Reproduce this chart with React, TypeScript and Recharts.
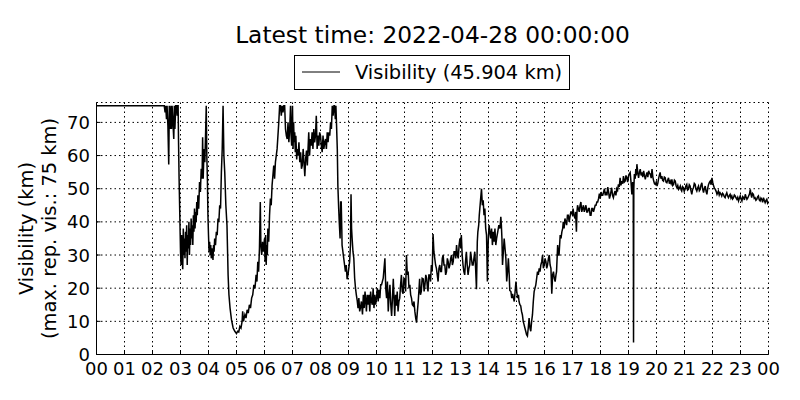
import React from "react";
import { LineChart, Line, XAxis, YAxis, CartesianGrid } from "recharts";

const chartTitle = "Latest time: 2022-04-28 00:00:00";
const legendLabel = "Visibility (45.904 km)";
const yLabelLines = ["Visibility (km)", "(max. rep. vis.: 75 km)"];
const xTicks = [0, 1, 2, 3, 4, 5, 6, 7, 8, 9, 10, 11, 12, 13, 14, 15, 16, 17, 18, 19, 20, 21, 22, 23, 24];
const yTicks = [0, 10, 20, 30, 40, 50, 60, 70];

// [hour of day, visibility km]
const seg00to06: [number, number][] = [
  [0, 75], [0.5, 75], [1, 75], [1.5, 75], [2, 75], [2.42, 75], [2.45, 73], [2.47, 75], [2.5, 71], [2.52, 75],
  [2.55, 69], [2.58, 57.3], [2.6, 75], [2.62, 72], [2.64, 68], [2.66, 75], [2.68, 68], [2.7, 75], [2.73, 70],
  [2.76, 65], [2.78, 75], [2.8, 68], [2.83, 75], [2.86, 75], [2.88, 72], [2.9, 75], [2.915, 75], [2.93, 64],
  [2.95, 53], [2.98, 40], [3.0, 31], [3.02, 27], [3.04, 36], [3.06, 29], [3.08, 25.7], [3.1, 38], [3.12, 30],
  [3.14, 35], [3.16, 29], [3.18, 37], [3.2, 31], [3.22, 39], [3.24, 27], [3.26, 36], [3.28, 32], [3.3, 40],
  [3.32, 30], [3.34, 38], [3.36, 33], [3.38, 41], [3.4, 35], [3.42, 39], [3.44, 33], [3.46, 42], [3.48, 37],
  [3.5, 44], [3.52, 38], [3.54, 43], [3.56, 40], [3.58, 46], [3.6, 42], [3.62, 48], [3.65, 44], [3.68, 52],
  [3.71, 49], [3.74, 56], [3.77, 53], [3.79, 65.5], [3.81, 53], [3.84, 62], [3.87, 58], [3.9, 68], [3.92, 75],
  [3.94, 60], [3.96, 53], [3.98, 42], [4.0, 36], [4.02, 31], [4.04, 34], [4.06, 30], [4.08, 33], [4.1, 29],
  [4.12, 32], [4.14, 31], [4.16, 28.5], [4.18, 33], [4.2, 31], [4.22, 35], [4.25, 33], [4.28, 37], [4.31, 36],
  [4.34, 41], [4.37, 40], [4.4, 45], [4.43, 44], [4.46, 55], [4.49, 62], [4.52, 75], [4.55, 60], [4.58, 55],
  [4.62, 45], [4.66, 39], [4.7, 24], [4.73, 18], [4.77, 14], [4.82, 10.5], [4.88, 8], [4.94, 7], [5.0, 6.3],
  [5.04, 7], [5.08, 6.8], [5.12, 8.5], [5.16, 8], [5.2, 10], [5.22, 13], [5.25, 10], [5.3, 12], [5.34, 11],
  [5.38, 13.5], [5.42, 12.5], [5.46, 15], [5.5, 14], [5.54, 17], [5.58, 18], [5.62, 21], [5.66, 20], [5.7, 24],
  [5.73, 22], [5.76, 28], [5.79, 25], [5.82, 32], [5.85, 46], [5.87, 33], [5.9, 30], [5.93, 34], [5.96, 31],
  [6.0, 35],
];

const seg06to10: [number, number][] = [
  [6.02, 28], [6.04, 36], [6.06, 27], [6.08, 33], [6.1, 30], [6.12, 38], [6.15, 34], [6.18, 42], [6.21, 47],
  [6.24, 45], [6.27, 51], [6.3, 54], [6.33, 57], [6.36, 53], [6.39, 58], [6.42, 60], [6.45, 62], [6.48, 66],
  [6.51, 70], [6.54, 75], [6.57, 75], [6.6, 72], [6.63, 75], [6.66, 73], [6.69, 75], [6.72, 75], [6.75, 68],
  [6.78, 66], [6.81, 65], [6.84, 70], [6.87, 64], [6.9, 68], [6.93, 75], [6.95, 66], [6.97, 63], [7.0, 75],
  [7.02, 62], [7.04, 70], [7.06, 64], [7.08, 67], [7.1, 61], [7.12, 66], [7.15, 58.8], [7.17, 62], [7.2, 60],
  [7.23, 64], [7.26, 58], [7.29, 61], [7.32, 56], [7.35, 57], [7.38, 62], [7.41, 58], [7.44, 53.8], [7.47, 59],
  [7.5, 61.5], [7.53, 57], [7.56, 63], [7.58, 67], [7.61, 60], [7.64, 65], [7.67, 63], [7.7, 67], [7.73, 62],
  [7.76, 68], [7.79, 64], [7.82, 66], [7.85, 72], [7.88, 62], [7.91, 66], [7.94, 63], [7.97, 67], [8.0, 66],
  [8.03, 63], [8.06, 61], [8.09, 66], [8.12, 62], [8.15, 64], [8.18, 65], [8.21, 62], [8.24, 67], [8.27, 64],
  [8.3, 67], [8.33, 66], [8.36, 70], [8.39, 68], [8.42, 75], [8.45, 72], [8.48, 75], [8.5, 75], [8.53, 71],
  [8.55, 75], [8.57, 70], [8.6, 62], [8.62, 51], [8.65, 44], [8.67, 40], [8.7, 35], [8.72, 46], [8.74, 46],
  [8.76, 38], [8.77, 33], [8.8, 31], [8.83, 29], [8.86, 27], [8.89, 25], [8.92, 27], [8.95, 22.7], [8.98, 24],
  [9.01, 26], [9.04, 28], [9.07, 33], [9.09, 48.3], [9.11, 38], [9.13, 35], [9.16, 31], [9.19, 29], [9.22, 23],
  [9.25, 20], [9.28, 18], [9.31, 16.3], [9.34, 14], [9.37, 17], [9.4, 13], [9.43, 14.2], [9.46, 16], [9.5, 12.1],
  [9.53, 18], [9.56, 14], [9.59, 19], [9.61, 17], [9.64, 13], [9.67, 18], [9.7, 15], [9.73, 18], [9.76, 13],
  [9.79, 19], [9.82, 16], [9.85, 15], [9.88, 20], [9.91, 14], [9.94, 18], [9.97, 15], [10.0, 17],
];

const seg10to14: [number, number][] = [
  [10.03, 20], [10.06, 16], [10.09, 19.5], [10.12, 17], [10.15, 21], [10.18, 21], [10.24, 23], [10.3, 29],
  [10.33, 20], [10.36, 17], [10.39, 22], [10.42, 13], [10.45, 18], [10.48, 21], [10.51, 15], [10.54, 11.6],
  [10.57, 17], [10.6, 22.8], [10.63, 16], [10.65, 11.6], [10.68, 18], [10.71, 14.7], [10.74, 19], [10.77, 13],
  [10.8, 16], [10.83, 17], [10.86, 21], [10.89, 24], [10.92, 19], [10.95, 18.3], [10.98, 23], [11.01, 22.7],
  [11.04, 19], [11.07, 30], [11.1, 24], [11.13, 25], [11.16, 20], [11.19, 21], [11.22, 18], [11.25, 17],
  [11.28, 15], [11.31, 14.7], [11.34, 16], [11.37, 13], [11.4, 11], [11.43, 9.6], [11.46, 13], [11.49, 16],
  [11.52, 20], [11.54, 22.8], [11.57, 18], [11.6, 19], [11.63, 23], [11.67, 22.8], [11.7, 19], [11.73, 21],
  [11.76, 24], [11.79, 23], [11.82, 20], [11.84, 19], [11.87, 24], [11.9, 24], [11.93, 22], [11.96, 27],
  [11.99, 25], [12.02, 36.3], [12.05, 31], [12.08, 29], [12.11, 27], [12.14, 26], [12.17, 24], [12.2, 22],
  [12.23, 26], [12.26, 27], [12.29, 25], [12.32, 25], [12.35, 29], [12.38, 30], [12.41, 27], [12.44, 27],
  [12.47, 24], [12.5, 25], [12.53, 29], [12.56, 28], [12.59, 26], [12.62, 27], [12.65, 29], [12.68, 30],
  [12.71, 27], [12.74, 28], [12.77, 31], [12.8, 31], [12.83, 29], [12.86, 33], [12.89, 30], [12.92, 29],
  [12.95, 33], [12.98, 35], [13.01, 32], [13.03, 36], [13.06, 30], [13.09, 27], [13.12, 25], [13.15, 24],
  [13.18, 28], [13.21, 31], [13.24, 27], [13.27, 24], [13.3, 26], [13.33, 27], [13.36, 31], [13.39, 29],
  [13.42, 27], [13.45, 27], [13.48, 29], [13.51, 31], [13.54, 26], [13.57, 19.7], [13.6, 34], [13.62, 37],
  [13.65, 39], [13.67, 42], [13.69, 44], [13.72, 47], [13.75, 50], [13.78, 45], [13.81, 46.5], [13.84, 42],
  [13.87, 44], [13.9, 38], [13.93, 36], [13.96, 22], [13.99, 34],
];

const seg14to18: [number, number][] = [
  [14.02, 39], [14.05, 37], [14.08, 35], [14.11, 38], [14.14, 33], [14.17, 37], [14.2, 34], [14.23, 38],
  [14.26, 33], [14.29, 35], [14.33, 37], [14.37, 39], [14.41, 38], [14.44, 41.5], [14.46, 39], [14.48, 35],
  [14.5, 27], [14.53, 31], [14.56, 35], [14.59, 32], [14.62, 29], [14.65, 22], [14.68, 25], [14.71, 29],
  [14.74, 24], [14.76, 19.3], [14.8, 19], [14.83, 17], [14.86, 18.3], [14.89, 17], [14.92, 16], [14.95, 19],
  [14.98, 22], [15.01, 19], [15.04, 17], [15.07, 18], [15.09, 16], [15.12, 15], [15.15, 14.7], [15.18, 13],
  [15.21, 12], [15.24, 10], [15.27, 9], [15.3, 8], [15.33, 7], [15.36, 6], [15.39, 5.6], [15.42, 8], [15.45, 11],
  [15.48, 8], [15.51, 7], [15.54, 10], [15.57, 12], [15.6, 16], [15.63, 19], [15.66, 20], [15.69, 21],
  [15.72, 23], [15.75, 25], [15.78, 24], [15.81, 26], [15.84, 25], [15.87, 27], [15.9, 28], [15.93, 30],
  [15.96, 26], [15.99, 27], [16.02, 29], [16.05, 28], [16.08, 26], [16.11, 27], [16.14, 29], [16.17, 30],
  [16.2, 27], [16.23, 26], [16.26, 18.3], [16.29, 24], [16.32, 25], [16.35, 23], [16.38, 22], [16.41, 24],
  [16.43, 25], [16.47, 33], [16.5, 30], [16.52, 30], [16.56, 36], [16.59, 35], [16.62, 37], [16.65, 38],
  [16.67, 40], [16.7, 38], [16.73, 41], [16.76, 40], [16.79, 39], [16.82, 42], [16.85, 42], [16.88, 40],
  [16.9, 41], [16.94, 43], [16.97, 43], [17.0, 42], [17.02, 44], [17.05, 42], [17.09, 41], [17.11, 43],
  [17.14, 37], [17.16, 43], [17.18, 45], [17.21, 44], [17.24, 43], [17.27, 45], [17.3, 46], [17.33, 43],
  [17.36, 44], [17.39, 45], [17.42, 43], [17.45, 44], [17.48, 45], [17.51, 43], [17.54, 43], [17.57, 44],
  [17.6, 44], [17.63, 42], [17.66, 42], [17.69, 44], [17.72, 44], [17.75, 43], [17.78, 44], [17.81, 45],
  [17.84, 45], [17.87, 46], [17.9, 46], [17.93, 47], [17.96, 48.5], [17.99, 47], [18.02, 49], [18.05, 48],
  [18.08, 48], [18.11, 49], [18.14, 50], [18.17, 48], [18.2, 49], [18.23, 48], [18.26, 50.5], [18.29, 49],
  [18.32, 47], [18.35, 48], [18.37, 49],
];

const seg18to24: [number, number][] = [
  [18.4, 50.3], [18.43, 48], [18.46, 47.3], [18.49, 48.5], [18.52, 49.3], [18.55, 48], [18.58, 50], [18.61, 49.5],
  [18.64, 51.3], [18.67, 50.5], [18.7, 53.3], [18.73, 51], [18.76, 52.3], [18.79, 51.5], [18.82, 53.8], [18.85, 52],
  [18.88, 52.3], [18.91, 54], [18.94, 53.3], [18.97, 52], [19.0, 53.8], [19.03, 54.5], [19.06, 54.9], [19.09, 52],
  [19.12, 48.3], [19.15, 52], [19.17, 50], [19.18, 3.6], [19.19, 50], [19.21, 54.4], [19.24, 53], [19.26, 55.9],
  [19.28, 54], [19.3, 57.4], [19.33, 55], [19.36, 53.3], [19.39, 55], [19.42, 55.9], [19.45, 54], [19.48, 54.9],
  [19.51, 53.5], [19.54, 55.4], [19.57, 54], [19.6, 52.8], [19.63, 54], [19.66, 54.9], [19.69, 53.5], [19.72, 55.4],
  [19.75, 54.6], [19.78, 54.4], [19.81, 53.2], [19.84, 55.9], [19.87, 53.5], [19.9, 52.3], [19.93, 51.5],
  [19.96, 51.3], [19.99, 52], [20.02, 50.8], [20.05, 51.8], [20.07, 52.8], [20.1, 54], [20.13, 54.9], [20.16, 53],
  [20.19, 53.8], [20.22, 52.5], [20.25, 52.3], [20.28, 53.5], [20.31, 53.3], [20.34, 52], [20.37, 51.8],
  [20.4, 52.6], [20.43, 53.3], [20.46, 51.5], [20.49, 52.3], [20.52, 51.6], [20.55, 52.8], [20.58, 51],
  [20.61, 51.3], [20.64, 52.6], [20.67, 52.3], [20.7, 50.9], [20.73, 50.3], [20.76, 51], [20.79, 49.8],
  [20.82, 50.2], [20.85, 50.8], [20.88, 49.6], [20.9, 49.3], [20.93, 50.6], [20.96, 50.3], [20.99, 49.2],
  [21.02, 49.8], [21.05, 50.9], [21.08, 51.3], [21.11, 49.6], [21.14, 49.8], [21.17, 51.2], [21.2, 50.8],
  [21.23, 49.4], [21.26, 48.3], [21.29, 49.8], [21.32, 50.3], [21.35, 51.6], [21.38, 51.3], [21.41, 49.9],
  [21.44, 49.3], [21.47, 50.2], [21.5, 50.8], [21.53, 49.4], [21.56, 49.8], [21.59, 51.1], [21.62, 51.8],
  [21.65, 49.9], [21.68, 48.8], [21.71, 50.1], [21.74, 50.8], [21.77, 49.2], [21.8, 48.3], [21.83, 50.2],
  [21.86, 51.3], [21.89, 51.9], [21.92, 52.3], [21.95, 51.2], [21.98, 53.3], [22.01, 51.9], [22.04, 50.8],
  [22.07, 50.2], [22.1, 49.8], [22.13, 49.2], [22.16, 48.3], [22.19, 48.9], [22.21, 49.3], [22.24, 48.1],
  [22.27, 48.8], [22.3, 48.4], [22.33, 47.8], [22.36, 48.6], [22.39, 48.3], [22.42, 47.6], [22.45, 47.3],
  [22.48, 48.2], [22.51, 48.8], [22.54, 47.9], [22.57, 47.3], [22.6, 47.9], [22.63, 48.3], [22.66, 47.2],
  [22.69, 47.8], [22.72, 46.9], [22.75, 47.3], [22.78, 48.1], [22.81, 47.8], [22.84, 47.2], [22.87, 46.8],
  [22.9, 47.4], [22.93, 46.3], [22.96, 47.1], [22.99, 47.8], [23.02, 46.9], [23.05, 46.3], [23.08, 47.6],
  [23.11, 47.3], [23.14, 46.6], [23.17, 48.3], [23.2, 47.5], [23.23, 46.8], [23.26, 47.2], [23.29, 47.8],
  [23.32, 48.4], [23.35, 49.8], [23.38, 48.1], [23.4, 47.3], [23.43, 48.6], [23.46, 48.3], [23.49, 47.1],
  [23.52, 47.3], [23.55, 46.5], [23.58, 46.8], [23.61, 47.5], [23.64, 47.8], [23.67, 46.6], [23.7, 46.3],
  [23.73, 47.2], [23.76, 46.8], [23.79, 45.9], [23.82, 47.3], [23.85, 46.5], [23.88, 45.8], [23.91, 46.4],
  [23.94, 46.8], [23.97, 45.6], [24.0, 45.904],
];

const readings = [...seg00to06, ...seg06to10, ...seg10to14, ...seg14to18, ...seg18to24].map(([t, v]) => ({ t, v }));

const FONT = "'DejaVu Sans', sans-serif";
const TICK_LEN = 4;

const fmtHour = (h: number) => String(h % 24).padStart(2, "0");

const BottomTick = (props: any) => {
  const { x, y, payload } = props;
  return (
    <g>
      <line x1={x} x2={x} y1={y} y2={y - TICK_LEN} stroke="#000" strokeWidth={1} />
      <text x={x} y={y + 20} textAnchor="middle" fontSize={18} fontFamily={FONT} fill="#000">
        {fmtHour(payload.value)}
      </text>
    </g>
  );
};

const TopTick = (props: any) => {
  const { x, y } = props;
  return <line x1={x} x2={x} y1={y} y2={y + TICK_LEN} stroke="#000" strokeWidth={1} />;
};

const LeftTick = (props: any) => {
  const { x, y, payload } = props;
  return (
    <g>
      <line x1={x} x2={x + TICK_LEN} y1={y} y2={y} stroke="#000" strokeWidth={1} />
      <text x={x - 6.5} y={y + 6.5} textAnchor="end" fontSize={18} fontFamily={FONT} fill="#000">
        {payload.value}
      </text>
    </g>
  );
};

const RightTick = (props: any) => {
  const { x, y } = props;
  return <line x1={x - TICK_LEN} x2={x} y1={y} y2={y} stroke="#000" strokeWidth={1} />;
};

export default function App() {
  return (
    <div style={{ position: "absolute", left: 0, top: 0, width: 800, height: 400, background: "#fff" }}>
      <LineChart
        width={800}
        height={400}
        data={readings}
        margin={{ top: 102.5, right: 31.5, bottom: 0, left: 0 }}
      >
        <CartesianGrid stroke="#000" strokeDasharray="1.5 3" strokeWidth={1} />
        <XAxis
          dataKey="t"
          type="number"
          domain={[0, 24]}
          ticks={xTicks}
          interval={0}
          height={45.5}
          axisLine={{ stroke: "#000", strokeWidth: 1 }}
          tickLine={false}
          tickSize={0}
          tickMargin={0}
          tick={<BottomTick />}
        />
        <XAxis
          xAxisId="top"
          orientation="top"
          type="number"
          domain={[0, 24]}
          ticks={xTicks}
          interval={0}
          height={0}
          axisLine={{ stroke: "#000", strokeWidth: 1 }}
          tickLine={false}
          tickSize={0}
          tickMargin={0}
          tick={<TopTick />}
        />
        <YAxis
          type="number"
          domain={[0, 76]}
          ticks={yTicks}
          interval={0}
          width={96.5}
          axisLine={{ stroke: "#000", strokeWidth: 1 }}
          tickLine={false}
          tickSize={0}
          tickMargin={0}
          tick={<LeftTick />}
        />
        <YAxis
          yAxisId="right"
          orientation="right"
          type="number"
          domain={[0, 76]}
          ticks={yTicks}
          interval={0}
          width={0}
          axisLine={{ stroke: "#000", strokeWidth: 1 }}
          tickLine={false}
          tickSize={0}
          tickMargin={0}
          tick={<RightTick />}
        />
        <Line
          type="linear"
          dataKey="v"
          name={legendLabel}
          stroke="#000"
          strokeWidth={1.5}
          strokeLinejoin="miter"
          dot={false}
          activeDot={false}
          isAnimationActive={false}
        />
        <text x={432.5} y={42.5} textAnchor="middle" fontSize={23.3} fontFamily={FONT} fill="#000">
          {chartTitle}
        </text>
        <g>
          <rect x={294.5} y={55.5} width={275} height={34} fill="#fff" stroke="#000" strokeWidth={1} />
          <line x1={302} x2={340} y1={72} y2={72} stroke="#000" strokeWidth={1} />
          <text x={355} y={78.5} fontSize={19.44} fontFamily={FONT} fill="#000">
            {legendLabel}
          </text>
        </g>
        <g transform="rotate(-90)">
          <text x={-228.5} y={32.5} textAnchor="middle" fontSize={19.44} fontFamily={FONT} fill="#000">
            {yLabelLines[0]}
          </text>
          <text x={-228.5} y={55.8} textAnchor="middle" fontSize={19.44} fontFamily={FONT} fill="#000">
            {yLabelLines[1]}
          </text>
        </g>
      </LineChart>
    </div>
  );
}
